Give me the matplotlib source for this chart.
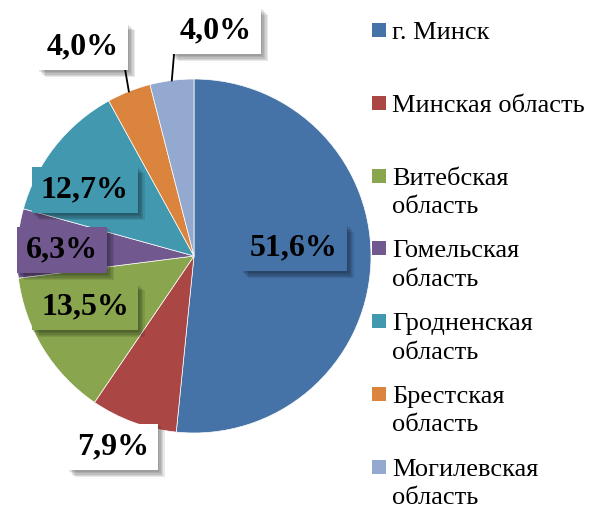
import matplotlib
matplotlib.use("Agg")
import matplotlib.pyplot as plt
import matplotlib.patheffects as pe
from matplotlib.patches import Rectangle
import numpy as np

# ---- data ----
regions = ["г. Минск", "Минская область", "Витебская\nобласть", "Гомельская\nобласть",
           "Гродненская\nобласть", "Брестская\nобласть", "Могилевская\nобласть"]
shares = [51.6, 7.9, 13.5, 6.3, 12.7, 4.0, 4.0]
pct_labels = ["51,6%", "7,9%", "13,5%", "6,3%", "12,7%", "4,0%", "4,0%"]

# ---- style ----
colors = ["#4572A7", "#AA4643", "#89A54E", "#71588F", "#4198AF", "#DB843D", "#93A9CF"]
label_pos = [(0.565, 0.045), (-0.458, -1.079), (-0.616, -0.288), (-0.746, 0.034),
             (-0.616, 0.373), (-0.627, 1.181), (0.124, 1.271)]
outside = [False, True, False, False, False, True, True]
leader_start = {5: (-0.401, 1.124), 6: (-0.107, 1.209)}

W, H = 590, 511
fig = plt.figure(figsize=(W / 100, H / 100), dpi=100)
cx, cy, R = 194, 256, 177
ax = fig.add_axes([(cx - R) / W, (H - cy - R) / H, 2 * R / W, 2 * R / H])

wedges, _ = ax.pie(shares, colors=colors, startangle=90, counterclock=False,
                   radius=1.0, wedgeprops=dict(edgecolor="white", linewidth=0.5))
ax.set_xlim(-1, 1)
ax.set_ylim(-1, 1)
ax.set_aspect("auto")
ax.axis("off")

for i, (sx, sy) in leader_start.items():
    w = wedges[i]
    mid = np.deg2rad((w.theta1 + w.theta2) / 2)
    ex, ey = np.cos(mid), np.sin(mid)
    ax.plot([ex, sx], [ey, sy], color="black", lw=1.3, clip_on=False, zorder=3)

shadow = [pe.SimplePatchShadow(offset=(k, -k), shadow_rgbFace="black", alpha=0.09)
          for k in (5, 4, 3, 2, 1)] + [pe.Normal()]
for i, txt in enumerate(pct_labels):
    fc = "white" if outside[i] else colors[i]
    t = ax.text(label_pos[i][0], label_pos[i][1], txt, ha="center", va="center",
                fontsize=23, fontweight="bold", family="Liberation Serif", color="black",
                zorder=5, clip_on=False,
                bbox=dict(boxstyle="square,pad=0.28", facecolor=fc, edgecolor="none"))
    t.get_bbox_patch().set_path_effects(shadow)

y0, pitch = 30, 72.8
for i, lab in enumerate(regions):
    yc = y0 + pitch * i
    fig.patches.append(Rectangle((372 / W, 1 - (yc + 7) / H), 14 / W, 14 / H,
                                 transform=fig.transFigure, facecolor=colors[i],
                                 edgecolor="none"))
    fig.text(392 / W, 1 - (yc - 8) / H, lab, ha="left", va="top", fontsize=19,
             family="Liberation Serif", color="black", linespacing=1.38)

fig.savefig("out.png", dpi=100)
